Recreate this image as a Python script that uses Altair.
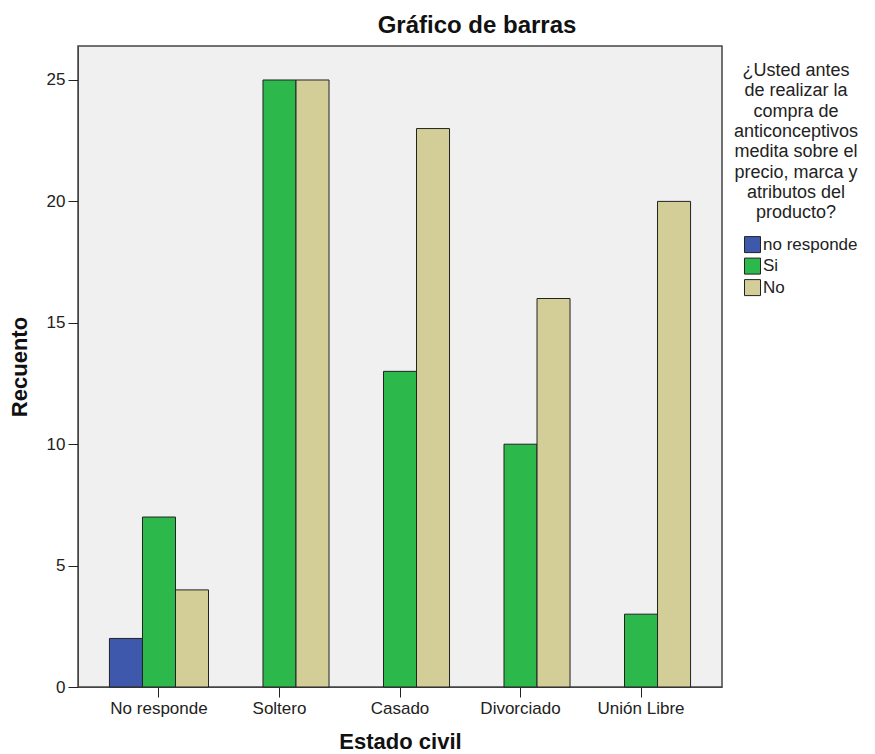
import altair as alt
import pandas as pd

categories = ["No responde", "Soltero", "Casado", "Divorciado", "Unión Libre"]
series = ["no responde", "Si", "No"]
vals_no_responde = [2, None, None, None, None]
vals_si = [7, 25, 13, 10, 3]
vals_no = [4, 25, 23, 16, 20]
colors = ["#3E58AC", "#2DB84B", "#D3CE98"]
legend_title = ["¿Usted antes", "de realizar la", "compra de", "anticonceptivos",
                "medita sobre el", "precio, marca y", "atributos del", "producto?"]

rows = []
for s, vals in zip(series, [vals_no_responde, vals_si, vals_no]):
    for c, v in zip(categories, vals):
        if v is not None:
            rows.append({"estado": c, "grupo": s, "recuento": v})
df = pd.DataFrame(rows)

FONT = "Liberation Sans"

chart = alt.Chart(df).mark_bar(stroke="#222222", strokeWidth=1).encode(
    x=alt.X("estado:N", sort=categories,
            scale=alt.Scale(domain=categories, paddingInner=0.178, paddingOuter=0.261),
            axis=alt.Axis(title="Estado civil", labelAngle=0, labelFontSize=17,
                          labelColor="#222222", titleFontSize=22, titleFontWeight="bold",
                          titleColor="#111111", tickSize=10, tickColor="#222222",
                          domainColor="#444444", labelPadding=3, titlePadding=15,
                          labelFont=FONT, titleFont=FONT)),
    xOffset=alt.XOffset("grupo:N", sort=series, scale=alt.Scale(domain=series, paddingInner=0, paddingOuter=0)),
    y=alt.Y("recuento:Q", scale=alt.Scale(domain=[0, 26.4], nice=False),
            axis=alt.Axis(title="Recuento", values=[0, 5, 10, 15, 20, 25], grid=False,
                          labelFontSize=17, labelColor="#222222", titleFontSize=22,
                          titleFontWeight="bold", titleColor="#111111", tickSize=10,
                          tickColor="#222222", domainColor="#444444", labelPadding=3,
                          titlePadding=15, labelFont=FONT, titleFont=FONT)),
    color=alt.Color("grupo:N", sort=series,
                    scale=alt.Scale(domain=series, range=colors),
                    legend=alt.Legend(title=legend_title, orient="none", legendX=656, legendY=16,
                                      titleFontSize=18, titleFontWeight="normal",
                                      titleColor="#222222", titleFont=FONT,
                                      titleAlign="center", titleAnchor="middle",
                                      titleLineHeight=20.3, titlePadding=14,
                                      labelFontSize=17, labelColor="#222222", labelFont=FONT,
                                      symbolType="square", symbolSize=256,
                                      symbolStrokeColor="#222222", symbolStrokeWidth=1,
                                      symbolOpacity=1, symbolOffset=10, labelOffset=2,
                                      rowPadding=0.5)),
).properties(
    width=644,
    height=641,
    title=alt.TitleParams("Gráfico de barras", fontSize=24, fontWeight="bold", font=FONT,
                          anchor="middle", dx=77, offset=8, color="#111111"),
    autosize=alt.AutoSizeParams(type="none"),
    padding={"left": 70, "top": 38, "right": 145, "bottom": 70},
).configure_view(
    fill="#F0F0F0", stroke="#444444", strokeWidth=1.5
)

chart.save("out.html", embed_options={"renderer": "svg", "actions": False})
